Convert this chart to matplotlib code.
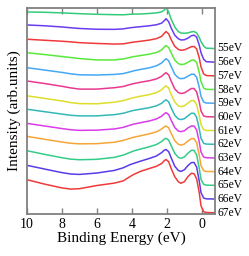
import matplotlib
matplotlib.use("Agg")
import matplotlib.pyplot as plt
import matplotlib.transforms as mtransforms

# binding energy grid (eV)
energy = [10, 9, 8, 7.5, 7, 6, 5, 4.5, 4.1, 3.9, 3.5, 3, 2.6, 2.3, 2.15, 2.05,
          1.9, 1.75, 1.55, 1.35, 1.2, 1.0, 0.8, 0.6, 0.45, 0.3, 0.15, 0.05,
          -0.1, -0.25, -0.75]

photon_labels = ["55eV", "56eV", "57eV", "58eV", "59eV", "60eV", "61eV",
                 "62eV", "63eV", "64eV", "65eV", "66eV", "67eV"]

line_colors = ["#33cc7a", "#6a3cf0", "#f03a3a", "#5ae83a", "#45a8f5", "#e8388f",
               "#dede2a", "#33b8b8", "#d93cea", "#f5a638", "#33cc88", "#5a3ce8",
               "#f03a3a"]

# intensity above each spectrum's own baseline (arb. units)
spec55 = [36.5, 36.2, 35.6, 35.2, 34.8, 34.2, 33.8, 33.7, 34.2, 34.4, 34.5, 35.0, 35.6, 36.6, 38.4, 41.0,
          36.5, 29.0, 21.5, 17.0, 15.5, 15.2, 15.6, 16.6, 17.0, 15.5, 11.0, 7.0, 2.5, 0.3, 0]
spec56 = [37.2, 36.4, 35.2, 34.4, 33.7, 32.9, 32.8, 33.3, 34.4, 34.8, 35.5, 36.4, 37.4, 39.0, 41.5, 43.5,
          40.5, 34.0, 27.0, 23.5, 22.2, 22.4, 24.0, 26.4, 27.0, 25.0, 17.0, 9.5, 3.0, 0.5, 0]
spec57 = [36.6, 35.6, 34.6, 34.0, 33.2, 32.4, 31.8, 32.0, 33.2, 33.8, 34.6, 35.8, 37.2, 39.5, 42.5, 44.3,
          42.0, 36.0, 29.5, 26.5, 25.6, 26.0, 27.5, 29.2, 29.4, 27.0, 18.0, 9.0, 2.0, 0.3, 0]
spec58 = [36.8, 35.0, 33.0, 32.0, 31.0, 29.6, 29.6, 30.6, 32.2, 32.9, 34.0, 35.4, 37.0, 39.6, 42.5, 44.0,
          42.0, 36.5, 29.5, 26.0, 25.0, 25.4, 27.2, 29.3, 29.5, 27.0, 17.0, 8.0, 1.5, 0.2, 0]
spec59 = [35.5, 33.2, 30.8, 29.4, 28.4, 28.2, 28.8, 29.6, 31.4, 32.4, 33.8, 35.4, 37.4, 40.2, 43.0, 44.5,
          42.5, 36.5, 29.0, 25.4, 24.5, 25.0, 27.0, 29.0, 29.0, 26.0, 16.0, 7.0, 1.2, 0.2, 0]
spec60 = [35.9, 33.4, 30.6, 29.0, 27.8, 27.8, 29.2, 30.4, 32.4, 33.3, 34.7, 36.2, 38.0, 40.6, 43.0, 44.2,
          42.0, 35.5, 28.0, 24.4, 23.4, 24.0, 26.2, 28.4, 28.4, 25.0, 15.0, 6.0, 1.0, 0.2, 0]
spec61 = [34.8, 32.2, 29.6, 28.0, 27.0, 26.8, 28.4, 30.0, 32.0, 32.9, 34.4, 36.0, 38.0, 40.8, 43.4, 44.7,
          42.5, 36.0, 28.5, 24.8, 24.0, 24.8, 27.5, 30.0, 30.0, 26.0, 15.0, 6.0, 1.0, 0.2, 0]
spec62 = [35.0, 32.6, 30.2, 29.0, 28.4, 28.4, 29.6, 31.0, 33.0, 33.9, 35.1, 36.6, 38.4, 41.0, 43.4, 44.5,
          42.5, 36.2, 29.0, 25.4, 24.7, 25.6, 28.4, 31.0, 31.0, 27.0, 15.5, 6.0, 1.0, 0.2, 0]
spec63 = [34.6, 32.0, 29.4, 28.2, 27.6, 27.8, 29.0, 30.6, 32.8, 33.8, 35.3, 37.0, 39.0, 41.8, 44.2, 45.3,
          43.4, 37.5, 30.4, 27.0, 26.3, 27.2, 30.0, 32.0, 32.0, 28.0, 16.0, 6.0, 1.0, 0.2, 0]
spec64 = [35.3, 32.4, 29.6, 28.4, 27.8, 28.0, 29.4, 31.2, 33.4, 34.4, 35.9, 37.8, 39.8, 42.6, 44.8, 45.6,
          43.8, 38.2, 31.0, 27.4, 26.5, 27.6, 30.6, 33.0, 33.0, 29.0, 16.5, 6.0, 1.0, 0.2, 0]
spec65 = [34.6, 31.0, 27.6, 26.2, 25.6, 26.0, 28.0, 30.2, 33.0, 34.4, 36.3, 38.6, 40.8, 43.8, 46.2, 47.0,
          45.2, 39.5, 32.0, 28.0, 27.0, 28.4, 32.0, 35.0, 35.0, 30.5, 17.0, 6.0, 1.0, 0.2, 0]
spec66 = [33.7, 30.0, 26.4, 25.0, 24.6, 26.0, 28.6, 31.2, 34.4, 35.6, 37.9, 40.6, 43.0, 46.4, 48.8, 49.5,
          47.4, 41.0, 32.8, 28.6, 27.6, 29.2, 33.4, 36.4, 36.6, 32.0, 18.0, 6.5, 1.0, 0.2, 0]
spec67 = [33.0, 28.6, 24.8, 23.6, 24.0, 27.2, 29.6, 31.8, 36.2, 38.2, 41.4, 44.2, 46.4, 49.2, 52.0, 53.2,
          51.0, 44.0, 36.0, 31.0, 29.4, 31.0, 36.0, 39.4, 39.0, 34.0, 20.0, 7.0, 1.0, 0.2, 0]

spectra = [spec55, spec56, spec57, spec58, spec59, spec60, spec61,
           spec62, spec63, spec64, spec65, spec66, spec67]

step = 13.68  # vertical offset between stacked spectra

plt.rcParams["font.family"] = ["Liberation Serif", "DejaVu Serif"]

fig = plt.figure(figsize=(2.49, 2.56), dpi=100)
ax = fig.add_axes([0.1084, 0.164, 0.755, 0.805])

n = len(spectra)
trans = mtransforms.blended_transform_factory(ax.transAxes, ax.transData)
for i, (spec, col, lab) in enumerate(zip(spectra, line_colors, photon_labels)):
    base = (n - 1 - i) * step
    ax.plot(energy, [v + base for v in spec], color=col, lw=1.1)
    ax.text(1.012, base, lab, transform=trans, ha="left", va="center",
            fontsize=8.3, color="black")

ax.set_xlim(10, -0.75)
ax.set_ylim(-1.3, 204.7)
ax.set_xticks([10, 8, 6, 4, 2, 0])
ax.set_yticks([])
ax.tick_params(axis="x", direction="in", top=True, length=4, width=1,
               color="#808080", labelsize=10, pad=3)
for s in ax.spines.values():
    s.set_color("#808080")
    s.set_linewidth(1.3)

ax.set_xlabel("Binding Energy (eV)", fontsize=11, labelpad=0)
ax.set_ylabel("Intensity (arb.units)", fontsize=11, labelpad=4)

fig.savefig("out.png", dpi=100)
